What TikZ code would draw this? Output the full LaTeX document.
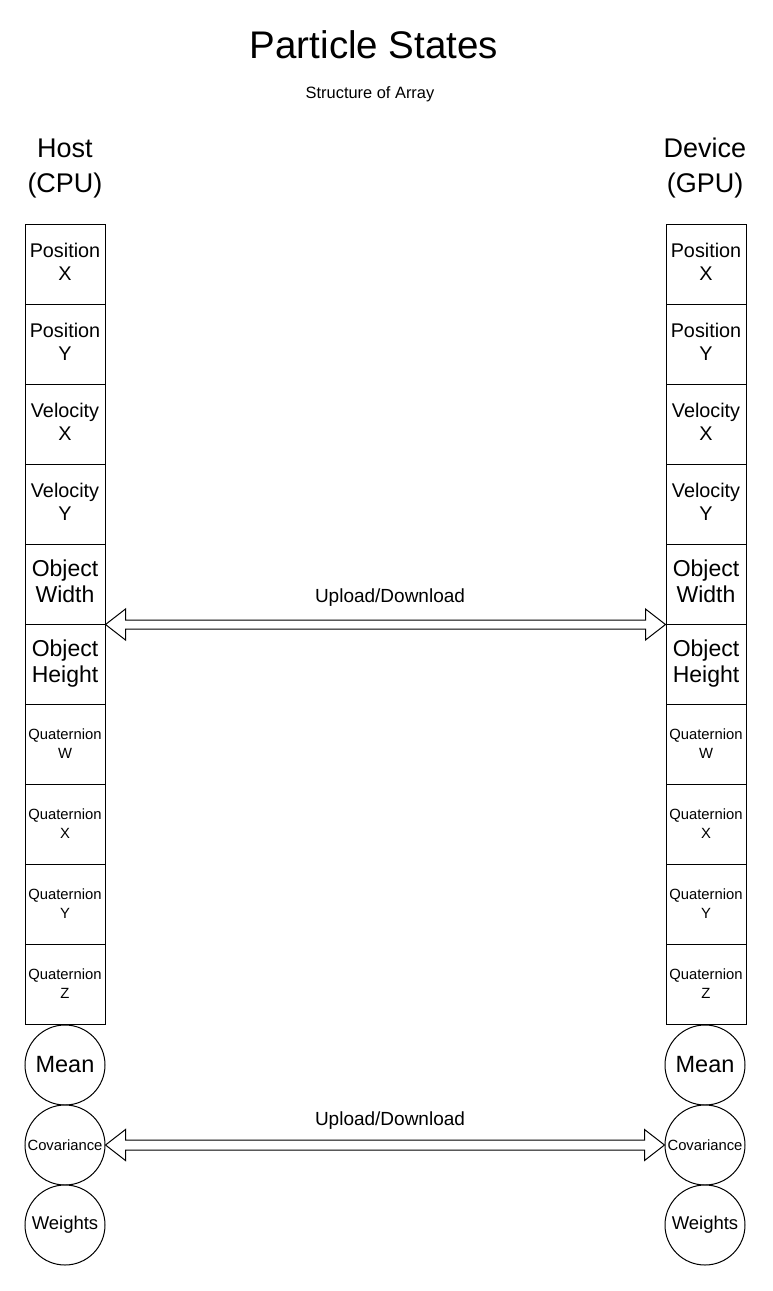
\documentclass[tikz,border=0pt]{standalone}
\usepackage{fontspec}
\setmainfont{Liberation Sans}
\usetikzlibrary{calc}
\newcommand{\celltext}[3]{\raisebox{#1}{\begin{tabular}{@{}c@{}}#2\\#3\end{tabular}}}
\tikzset{
  cell/.style={draw=black, line width=1pt, fill=white, minimum width=80pt, minimum height=80pt, inner sep=0pt, align=center},
  ball/.style={draw=black, line width=1pt, fill=white, circle, minimum size=80pt, inner sep=0pt, align=center},
  fbig/.style={font=\fontsize{19.8}{23}\selectfont},
  fobj/.style={font=\fontsize{23}{26}\selectfont},
  fquat/.style={font=\fontsize{14.8}{19}\selectfont},
  head/.style={align=center, font=\fontsize{27}{35}\selectfont},
  flexarr/.style={draw=black, line width=1pt, fill=white, line join=miter},
  lbl/.style={font=\fontsize{19}{22}\selectfont}
}
\begin{document}
\begin{tikzpicture}[x=1pt, y=-1pt]
\useasboundingbox (0,0) rectangle (773,1291);
\fill[white] (0,0) rectangle (773,1291);

\node[font=\fontsize{38.5}{44}\selectfont] (title) at (374,45) {Particle States};
\node[font=\fontsize{16.4}{19}\selectfont] (sub) at (370,94) {Structure of Array};

\node[head] (host) at (65,168.5) {Host\\(CPU)};
\node[head] (dev) at (705,168) {Device\\(GPU)};

% Host column
\node[cell, fbig] (hpx) at (65,264) {\celltext{5pt}{Position}{X}};
\node[cell, fbig] (hpy) at (65,344) {\celltext{5pt}{Position}{Y}};
\node[cell, fbig] (hvx) at (65,424) {\celltext{4pt}{Velocity}{X}};
\node[cell, fbig] (hvy) at (65,504) {\celltext{4pt}{Velocity}{Y}};
\node[cell, fobj] (how) at (65,584) {\celltext{-0.5pt}{Object}{Width}};
\node[cell, fobj] (hoh) at (65,664) {\celltext{-0.5pt}{Object}{Height}};
\node[cell, fquat] (hqw) at (65,744) {Quaternion\\W};
\node[cell, fquat] (hqx) at (65,824) {Quaternion\\X};
\node[cell, fquat] (hqy) at (65,904) {Quaternion\\Y};
\node[cell, fquat] (hqz) at (65,984) {Quaternion\\Z};
\node[ball, font=\fontsize{23.5}{27}\selectfont] (hmean) at (65,1065) {\raisebox{1.5pt}{Mean}};
\node[ball, font=\fontsize{14.8}{17}\selectfont] (hcov) at (65,1145) {Covariance};
\node[ball, font=\fontsize{18.5}{21}\selectfont] (hwt) at (65,1225) {Weights};

% Device column
\node[cell, fbig] (dpx) at (706,264) {\celltext{5pt}{Position}{X}};
\node[cell, fbig] (dpy) at (706,344) {\celltext{5pt}{Position}{Y}};
\node[cell, fbig] (dvx) at (706,424) {\celltext{4pt}{Velocity}{X}};
\node[cell, fbig] (dvy) at (706,504) {\celltext{4pt}{Velocity}{Y}};
\node[cell, fobj] (dow) at (706,584) {\celltext{-0.5pt}{Object}{Width}};
\node[cell, fobj] (doh) at (706,664) {\celltext{-0.5pt}{Object}{Height}};
\node[cell, fquat] (dqw) at (706,744) {Quaternion\\W};
\node[cell, fquat] (dqx) at (706,824) {Quaternion\\X};
\node[cell, fquat] (dqy) at (706,904) {Quaternion\\Y};
\node[cell, fquat] (dqz) at (706,984) {Quaternion\\Z};
\node[ball, font=\fontsize{23.5}{27}\selectfont] (dmean) at (705,1065) {\raisebox{1.5pt}{Mean}};
\node[ball, font=\fontsize{14.8}{17}\selectfont] (dcov) at (705,1145) {Covariance};
\node[ball, font=\fontsize{18.5}{21}\selectfont] (dwt) at (705,1225) {Weights};

% Arrow 1 (Object Width boundary)
\draw[flexarr] (how.south east) -- ++(20,-15.5) -- ++(0,11)
  -- ($(dow.south west)+(-20,-4.5)$) -- ++(0,-11) -- (dow.south west)
  -- ++(-20,15.5) -- ++(0,-11) -- ($(how.south east)+(20,4.5)$) -- ++(0,11) -- cycle;
\node[lbl] (up1) at (390,598) {Upload/Download};

% Arrow 2 (Covariance)
\draw[flexarr] (hcov.east) -- ++(20,-15.5) -- ++(0,10.5)
  -- ($(dcov.west)+(-20,-5)$) -- ++(0,-10.5) -- (dcov.west)
  -- ++(-20,15.5) -- ++(0,-10.5) -- ($(hcov.east)+(20,5)$) -- ++(0,10.5) -- cycle;
\node[lbl] (up2) at (390,1121) {Upload/Download};
\end{tikzpicture}
\end{document}
